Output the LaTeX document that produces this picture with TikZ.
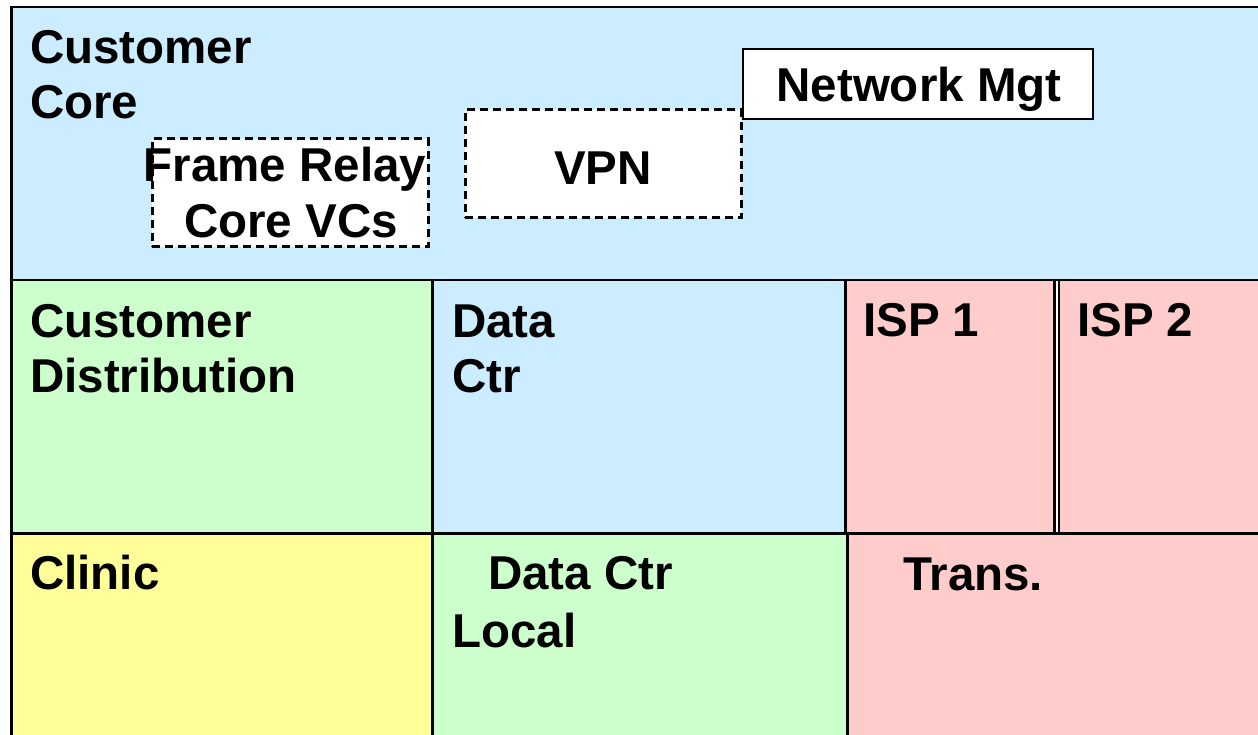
\documentclass[tikz,border=0pt]{standalone}
\usepackage{fontspec}
\setmainfont{Liberation Sans}
\definecolor{coreblue}{HTML}{CCECFF}
\definecolor{distgreen}{HTML}{CCFFCC}
\definecolor{isppink}{HTML}{FFCCCC}
\definecolor{clinicyellow}{HTML}{FFFF99}
\tikzset{
  cell/.style={draw=black, line width=2.5pt, inner sep=0pt, anchor=north west},
  lbl/.style={font=\fontsize{47.5}{55}\selectfont\bfseries, inner sep=0pt, anchor=base west, align=left},
  dashbox/.style={draw=black, fill=white, line width=3pt, dash pattern=on 8pt off 5pt, inner sep=0pt},
  solidbox/.style={draw=black, fill=white, line width=2.5pt, inner sep=0pt}
}
\begin{document}
\begin{tikzpicture}[x=1pt, y=-1pt]
\useasboundingbox (0,0) rectangle (1258,735);
\clip (0,0) rectangle (1258,735);
\fill[white] (0,0) rectangle (1258,735);

% upper band: customer core
\node[cell, fill=coreblue, minimum width=1252pt, minimum height=273pt] (core) at (10,6) {};

% middle band
\node[cell, fill=distgreen, minimum width=421pt, minimum height=253pt] (cdist) at (10,279) {};
\node[cell, fill=coreblue, minimum width=413pt, minimum height=253pt] (dctr) at (431,279) {};
\node[cell, fill=isppink, minimum width=209pt, minimum height=253pt] (isp1) at (844,279) {};
\node[cell, fill=isppink, minimum width=205pt, minimum height=253pt] (isp2) at (1057.5,279) {};

% lower band
\node[cell, fill=clinicyellow, minimum width=421pt, minimum height=210pt] (clinic) at (10,532) {};
\node[cell, fill=distgreen, minimum width=415pt, minimum height=210pt] (dlocal) at (431,532) {};
\node[cell, fill=isppink, minimum width=416pt, minimum height=210pt] (trans) at (846,532) {};

% boxes inside the core band
\node[dashbox, minimum width=276pt, minimum height=108pt] (frbox) at (290,193) {};
\node[dashbox, minimum width=276pt, minimum height=108pt] (vpnbox) at (603,164) {};
\node[solidbox, minimum width=350pt, minimum height=70pt] (mgtbox) at (918,84) {};

% labels (multi-line labels sit on the baseline of their last line)
\node[lbl] (tcore) at (30,119) {Customer\\Core};
\node[lbl, anchor=base] (tfr1) at (285,182) {Frame Relay};
\node[lbl, anchor=base] (tfr2) at (291,238) {Core VCs};
\node[lbl, anchor=base] (tvpn) at (603,185) {VPN};
\node[lbl, anchor=base] (tmgt) at (919,102) {Network Mgt};

\node[lbl] (tdist) at (30,392) {Customer\\Distribution};
\node[lbl] (tdctr) at (452,392) {Data\\Ctr};
\node[lbl] (tisp1) at (863,336) {ISP 1};
\node[lbl] (tisp2) at (1077,336) {ISP 2};

\node[lbl] (tclinic) at (30,589) {Clinic};
\node[lbl] (tdlocal1) at (488,589) {Data Ctr};
\node[lbl] (tdlocal2) at (452,647) {Local};
\node[lbl] (ttrans) at (903,590) {Trans.};
\end{tikzpicture}
\end{document}
